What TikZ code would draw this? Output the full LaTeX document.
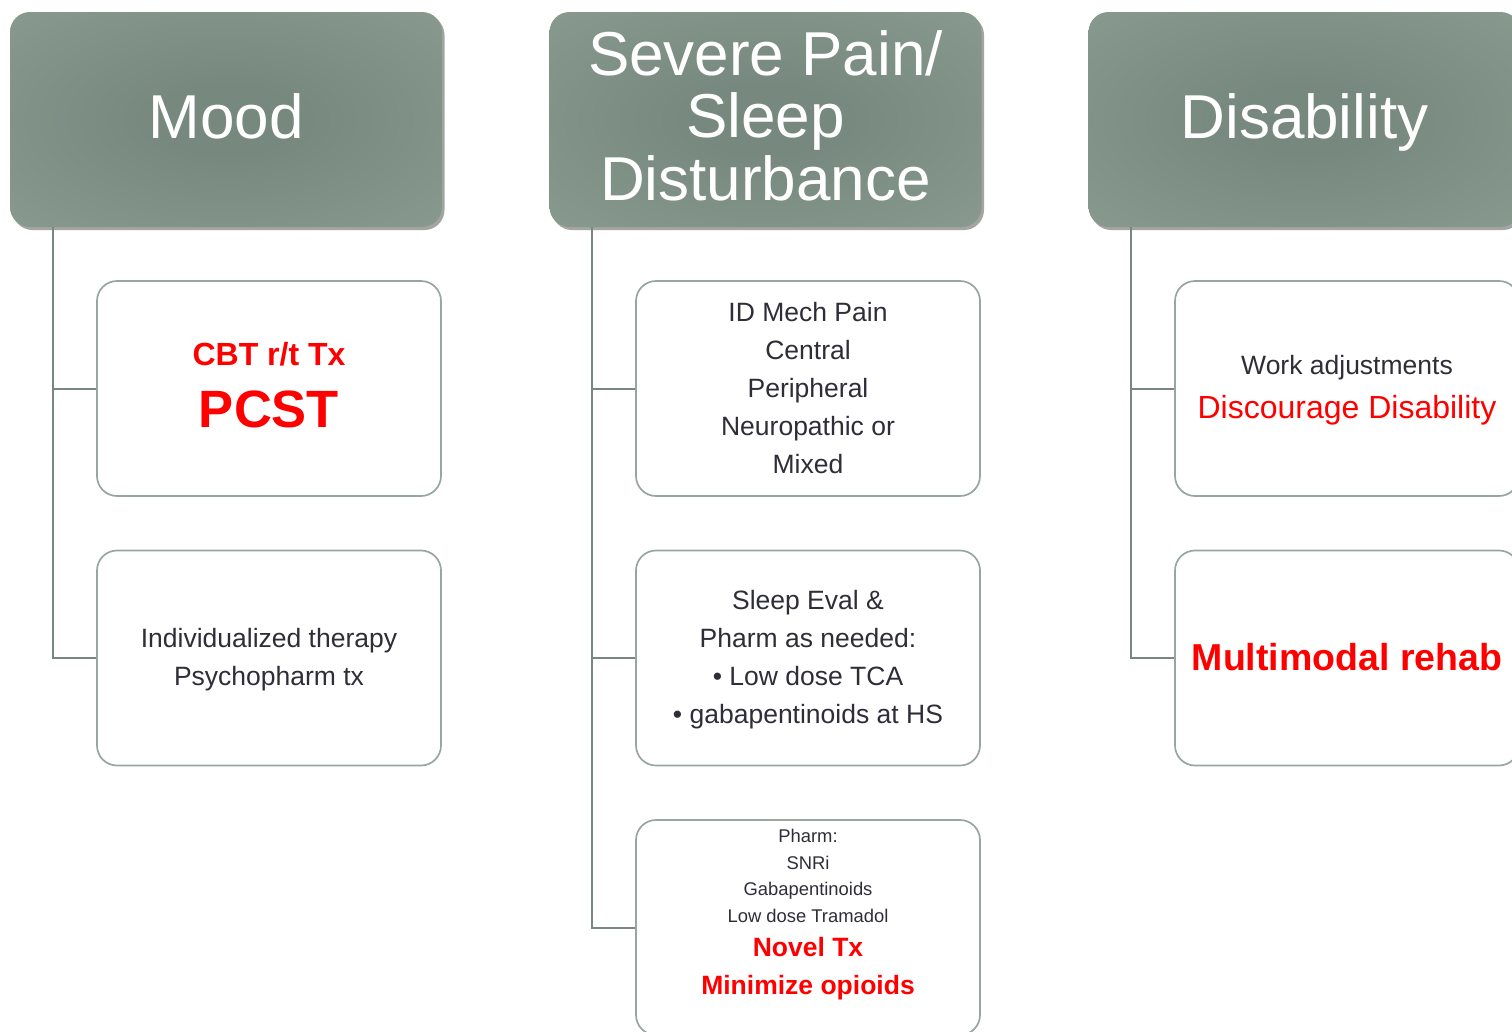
\documentclass[tikz,border=0pt]{standalone}
\usepackage{fontspec}
\setmainfont{Liberation Sans}
\usetikzlibrary{shadows}
\definecolor{hdrin}{RGB}{119,137,126}
\definecolor{hdrout}{RGB}{145,162,151}
\definecolor{conncol}{RGB}{122,135,129}
\definecolor{boxcol}{RGB}{152,166,158}
\definecolor{txtcol}{RGB}{46,46,56}
\definecolor{redtxt}{RGB}{255,0,0}
\pgfdeclareradialshading{hdrshade}{\pgfpoint{0bp}{0bp}}{color(0bp)=(hdrin); color(8bp)=(hdrin); color(50bp)=(hdrout); color(75bp)=(hdrout)}
\newcommand{\myfs}[2]{\fontsize{#1}{#2}\selectfont}
\begin{document}
\begin{tikzpicture}[x=1pt,y=-1pt,
  header/.style={rounded corners=20pt, minimum width=432pt, minimum height=215pt, inner sep=0pt,
    shade, shading=hdrshade,
    drop shadow={shadow xshift=2.5pt,shadow yshift=-3pt,opacity=.55,fill=black!65}},
  childbox/.style={draw=boxcol, line width=1.7pt, rounded corners=20pt, fill=white,
    minimum width=344pt, minimum height=215pt, inner sep=0pt},
  conn/.style={draw=conncol, line width=2pt},
  htxt/.style={anchor=base, inner sep=0pt, text=white, font=\myfs{62}{63}},
  txt/.style={anchor=base, inner sep=0pt, text=txtcol, font=\myfs{26.5}{30}},
  smalltxt/.style={anchor=base, inner sep=0pt, text=txtcol, font=\myfs{18.4}{22}},
  rtxt/.style={anchor=base, inner sep=0pt, text=redtxt}
]
\useasboundingbox (0,0) rectangle (1512,1031);

% headers
\node[header] (h1) at (226,119.5) {};
\node[header] (h2) at (765.5,119.5) {};
\node[header] (h3) at (1304.5,119.5) {};

\node[htxt] (h1t) at (226,138) {Mood};
\node[htxt] (h2a) at (765.5,75) {Severe Pain/};
\node[htxt] (h2b) at (765.5,137.5) {Sleep};
\node[htxt] (h2c) at (765.5,200) {Disturbance};
\node[htxt] (h3t) at (1304.5,138) {Disability};

% trunk start points
\coordinate (v1) at ([xshift=43pt]h1.south west);
\coordinate (v2) at ([xshift=43pt]h2.south west);
\coordinate (v3) at ([xshift=43pt]h3.south west);

% child boxes
\node[childbox] (c11) at (269,388.5) {};
\node[childbox] (c12) at (269,658) {};
\node[childbox] (c21) at (808,388.5) {};
\node[childbox] (c22) at (808,658) {};
\node[childbox] (c23) at (808,927.5) {};
\node[childbox] (c31) at (1347,388.5) {};
\node[childbox] (c32) at (1347,658) {};

% connectors
\draw[conn] (v1) |- (c12.west);
\draw[conn] (v1 |- c11.west) -- (c11.west);
\draw[conn] (v2) |- (c23.west);
\draw[conn] (v2 |- c21.west) -- (c21.west);
\draw[conn] (v2 |- c22.west) -- (c22.west);
\draw[conn] (v3) |- (c32.west);
\draw[conn] (v3 |- c31.west) -- (c31.west);

% Mood texts
\node[rtxt, font=\bfseries\myfs{32}{36}] (t11a) at (269,365) {CBT r/t Tx};
\node[rtxt, font=\bfseries\myfs{52.5}{56}] (t11b) at (269,427) {PCST};
\node[txt] (t12a) at (269,647) {Individualized therapy};
\node[txt] (t12b) at (269,685) {Psychopharm tx};

% Middle texts
\node[txt] (t21a) at (808,321) {ID Mech Pain};
\node[txt] (t21b) at (808,359) {Central};
\node[txt] (t21c) at (808,397) {Peripheral};
\node[txt] (t21d) at (808,435) {Neuropathic or};
\node[txt] (t21e) at (808,473.5) {Mixed};

\node[txt] (t22a) at (808,609) {Sleep Eval \&};
\node[txt] (t22b) at (808,647) {Pharm as needed:};
\node[txt] (t22c) at (808,685.5) {• Low dose TCA};
\node[txt] (t22d) at (808,723.5) {• gabapentinoids at HS};

\node[smalltxt] (t23a) at (808,842) {Pharm:};
\node[smalltxt] (t23b) at (808,869) {SNRi};
\node[smalltxt] (t23c) at (808,895.5) {Gabapentinoids};
\node[smalltxt] (t23d) at (808,922) {Low dose Tramadol};
\node[rtxt, font=\bfseries\myfs{26.5}{30}] (t23e) at (808,956.5) {Novel Tx};
\node[rtxt, font=\bfseries\myfs{26.5}{30}] (t23f) at (808,994) {Minimize opioids};

% Disability texts
\node[txt] (t31a) at (1347,374.5) {Work adjustments};
\node[rtxt, font=\myfs{32}{36}] (t31b) at (1347,418) {Discourage Disability};
\node[rtxt, font=\bfseries\myfs{37.5}{40}] (t32a) at (1347,670) {Multimodal rehab};
\end{tikzpicture}
\end{document}
